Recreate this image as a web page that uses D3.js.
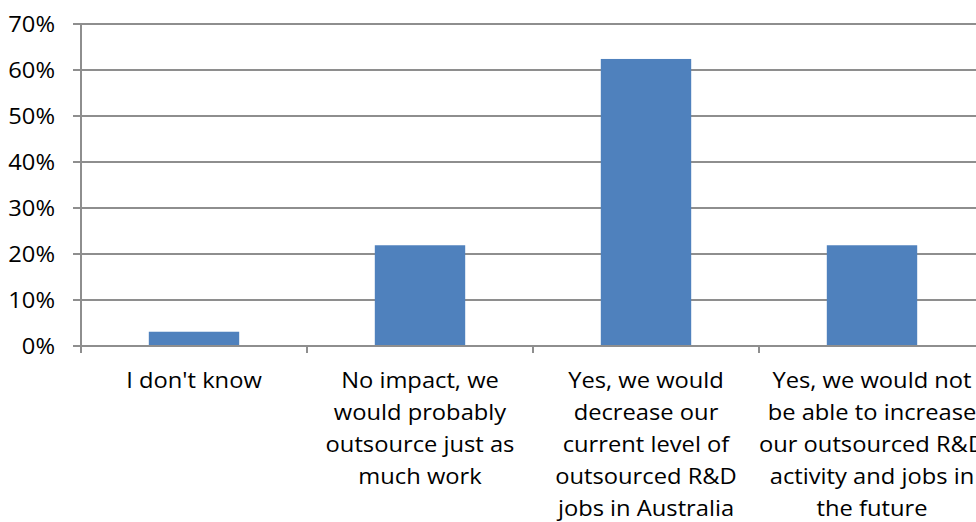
<!DOCTYPE html>
<html>
<head>
<meta charset="utf-8">
<script src="https://cdn.jsdelivr.net/npm/d3@7"></script>
<style>
  html, body { margin: 0; padding: 0; background: #fff; overflow: hidden; }
  svg { display: block; }
  text { font-family: "Open Sans", sans-serif; fill: #000; }
</style>
</head>
<body>
<svg id="chart" width="976" height="522"></svg>
<script>
// Survey responses: impact on outsourced R&D
const categories = [
  ["I don't know"],
  ["No impact, we", "would probably", "outsource just as", "much work"],
  ["Yes, we would", "decrease our", "current level of", "outsourced R&D", "jobs in Australia"],
  ["Yes, we would not", "be able to increase", "our outsourced R&D", "activity and jobs in", "the future"]
];
const values = [0.031, 0.219, 0.624, 0.219];
const yTicks = [0, 0.1, 0.2, 0.3, 0.4, 0.5, 0.6, 0.7];

const svg = d3.select("#chart");
const plotLeft = 81, plotRight = 985, plotTop = 24, plotBottom = 346;
const fontSize = 21, stretch = 1.13;

const x = d3.scaleBand().domain(d3.range(categories.length)).range([plotLeft, plotRight]).padding(0);
const y = d3.scaleLinear().domain([0, 0.7]).range([plotBottom, plotTop]);
const barW = x.bandwidth() * 0.4;

// horizontal gridlines (extend left past the axis as tick marks)
svg.append("g").selectAll("line").data(yTicks).join("line")
  .attr("x1", plotLeft - 8).attr("x2", plotRight)
  .attr("y1", d => y(d)).attr("y2", d => y(d))
  .attr("stroke", "#8e8e8e").attr("stroke-width", 2);

// y tick labels
svg.append("g").selectAll("text").data(yTicks).join("text")
  .attr("transform", d => `translate(55,${y(d)}) scale(${stretch},1)`)
  .attr("dy", "0.36em").attr("text-anchor", "end")
  .attr("font-size", fontSize)
  .text(d => d3.format(".0%")(d));

// bars
svg.append("g").selectAll("rect").data(values).join("rect")
  .attr("x", (d, i) => x(i) + (x.bandwidth() - barW) / 2)
  .attr("width", barW)
  .attr("y", d => y(d))
  .attr("height", d => y(0) - y(d))
  .attr("fill", "#4f81bd");

// y axis line
svg.append("line")
  .attr("x1", plotLeft).attr("x2", plotLeft)
  .attr("y1", plotTop).attr("y2", plotBottom + 7)
  .attr("stroke", "#8e8e8e").attr("stroke-width", 2);

// x axis baseline and category ticks
svg.append("line")
  .attr("x1", plotLeft).attr("x2", plotRight)
  .attr("y1", plotBottom).attr("y2", plotBottom)
  .attr("stroke", "#8e8e8e").attr("stroke-width", 2);
svg.append("g").selectAll("line").data(d3.range(1, categories.length + 1)).join("line")
  .attr("x1", d => plotLeft + d * x.step()).attr("x2", d => plotLeft + d * x.step())
  .attr("y1", plotBottom).attr("y2", plotBottom + 7)
  .attr("stroke", "#8e8e8e").attr("stroke-width", 2);

// category labels
const lab = svg.append("g").selectAll("text").data(categories).join("text")
  .attr("text-anchor", "middle")
  .attr("font-size", fontSize)
  .attr("transform", (d, i) => `translate(${x(i) + x.bandwidth() / 2},0) scale(${stretch},1)`);
lab.selectAll("tspan").data(d => d).join("tspan")
  .attr("x", 0)
  .attr("y", (d, j) => 388 + j * 32)
  .text(d => d);
</script>
</body>
</html>
